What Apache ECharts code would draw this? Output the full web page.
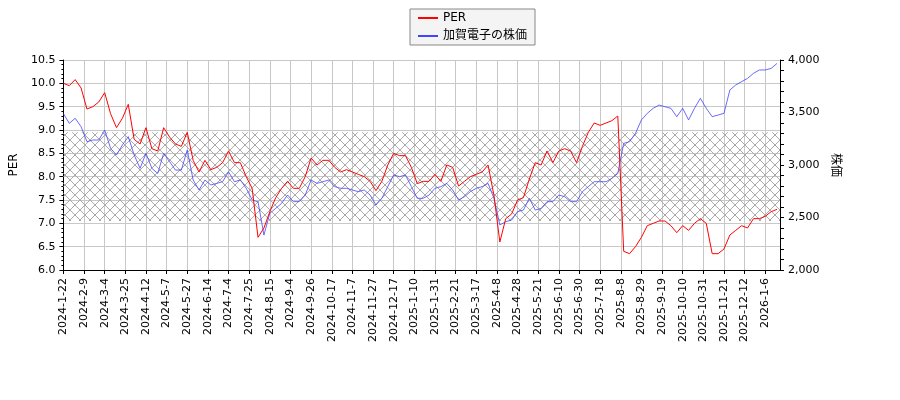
<!DOCTYPE html>
<html>
<head>
<meta charset="utf-8">
<script src="https://cdn.jsdelivr.net/npm/echarts@6/dist/echarts.min.js"></script>
<style>
  html, body { margin: 0; padding: 0; background: #fff; }
  #chart { width: 900px; height: 400px; }
</style>
</head>
<body>
<div id="chart"></div>
<script>
// tick labels, one every 14 trading days
var tickLabels = ['2024-1-22', '2024-2-9', '2024-3-4', '2024-3-25', '2024-4-12', '2024-5-7', '2024-5-27',
  '2024-6-14', '2024-7-4', '2024-7-25', '2024-8-15', '2024-9-4', '2024-9-26', '2024-10-17', '2024-11-7',
  '2024-11-27', '2024-12-17', '2025-1-10', '2025-1-31', '2025-2-21', '2025-3-17', '2025-4-8', '2025-4-28',
  '2025-5-21', '2025-6-10', '2025-6-30', '2025-7-18', '2025-8-8', '2025-8-29', '2025-9-19', '2025-10-10',
  '2025-10-31', '2025-11-21', '2025-12-12', '2026-1-6'];
var ticksPerLabel = 14;
var sampleStep = 4; // one reading every 4 trading days

// PER
var perValues = [10.0, 9.95, 10.08, 9.9, 9.45, 9.5, 9.6, 9.8, 9.35, 9.05,
  9.25, 9.55, 8.8, 8.7, 9.05, 8.6, 8.55, 9.05, 8.85, 8.7,
  8.65, 8.95, 8.35, 8.1, 8.35, 8.15, 8.2, 8.3, 8.55, 8.3,
  8.3, 8.0, 7.75, 6.7, 6.9, 7.25, 7.55, 7.75, 7.9, 7.75,
  7.75, 8.0, 8.4, 8.25, 8.35, 8.35, 8.2, 8.1, 8.15, 8.1,
  8.05, 8.0, 7.9, 7.7, 7.9, 8.25, 8.5, 8.45, 8.45, 8.2,
  7.85, 7.9, 7.9, 8.05, 7.9, 8.25, 8.2, 7.8, 7.9, 8.0,
  8.05, 8.1, 8.25, 7.6, 6.6, 7.1, 7.2, 7.5, 7.55, 7.95,
  8.3, 8.25, 8.55, 8.3, 8.55, 8.6, 8.55, 8.3, 8.65, 8.95,
  9.15, 9.1, 9.15, 9.2, 9.3, 6.4, 6.35, 6.5, 6.7, 6.95,
  7.0, 7.05, 7.05, 6.95, 6.8, 6.95, 6.85, 7.0, 7.1, 7.0,
  6.35, 6.35, 6.45, 6.75, 6.85, 6.95, 6.9, 7.1, 7.1, 7.15,
  7.25, 7.3];

// stock price (yen), same sampling
var priceValues = [3490, 3397, 3445, 3365, 3222, 3238, 3238, 3333, 3159, 3095,
  3190, 3270, 3095, 2968, 3111, 2968, 2920, 3111, 3032, 2952,
  2952, 3143, 2857, 2762, 2857, 2810, 2825, 2841, 2936, 2841,
  2857, 2778, 2667, 2650, 2333, 2540, 2587, 2635, 2714, 2651,
  2651, 2714, 2857, 2825, 2841, 2857, 2794, 2778, 2778, 2762,
  2746, 2762, 2714, 2619, 2683, 2794, 2905, 2889, 2905, 2794,
  2683, 2683, 2714, 2778, 2794, 2825, 2762, 2667, 2698, 2746,
  2778, 2794, 2825, 2683, 2429, 2460, 2476, 2556, 2571, 2683,
  2571, 2587, 2651, 2651, 2714, 2698, 2651, 2651, 2746, 2794,
  2841, 2841, 2841, 2873, 2920, 3206, 3222, 3302, 3429, 3492,
  3540, 3571, 3555, 3540, 3460, 3540, 3429, 3540, 3635, 3540,
  3460, 3476, 3492, 3714, 3762, 3794, 3825, 3873, 3905, 3905,
  3920, 3968];

function toPairs(vals) {
  return vals.map(function (v, k) { return [k * sampleStep, v]; });
}

// cross-hatch pattern for the band
function hatch() {
  var c = document.createElement('canvas');
  c.width = 10; c.height = 10;
  var g = c.getContext('2d');
  g.strokeStyle = '#aaaaaa';
  g.lineWidth = 1;
  g.beginPath();
  g.moveTo(0, 0); g.lineTo(10, 10);
  g.moveTo(10, 0); g.lineTo(0, 10);
  g.stroke();
  return c;
}

var chart = echarts.init(document.getElementById('chart'));
var font = 'DejaVu Sans';
var option = {
  animation: false,
  textStyle: { fontFamily: font },
  legend: {
    orient: 'vertical',
    left: 410, top: 9,
    data: ['PER', '加賀電子の株価'],
    backgroundColor: '#f4f4f4',
    borderColor: '#888', borderWidth: 1, borderRadius: 0,
    padding: [3, 8], itemGap: 6,
    itemWidth: 20, itemHeight: 2,
    icon: 'rect',
    textStyle: { fontSize: 12, color: '#000', fontFamily: 'DejaVu Sans, Noto Sans CJK JP' }
  },
  grid: { left: 60, right: 120, top: 60, bottom: 130 },
  xAxis: {
    type: 'value',
    min: 0, max: 486, interval: ticksPerLabel,
    axisLine: { onZero: false, lineStyle: { color: '#000' } },
    axisTick: { lineStyle: { color: '#000' }, length: 4 },
    splitLine: { show: true, lineStyle: { color: '#c8c8c8' } },
    axisLabel: {
      rotate: 90, fontSize: 11, color: '#000', showMaxLabel: false,
      formatter: function (v) { return tickLabels[Math.round(v / ticksPerLabel)] || ''; }
    }
  },
  yAxis: [{
    type: 'value', min: 6, max: 10.5, interval: 0.5,
    name: 'PER', nameLocation: 'middle', nameGap: 38, nameRotate: 90,
    nameTextStyle: { fontSize: 12, color: '#000' },
    axisLine: { show: true, lineStyle: { color: '#000' } },
    axisTick: { show: true, lineStyle: { color: '#000' }, length: 4 },
    minorTick: { show: true, splitNumber: 5, length: 2, lineStyle: { color: '#000' } },
    splitLine: { lineStyle: { color: '#c8c8c8' } },
    axisLabel: { fontSize: 11, color: '#000', formatter: function (v) { return v.toFixed(1); } }
  }, {
    type: 'value', min: 2000, max: 4000, interval: 500,
    name: '株価', nameLocation: 'middle', nameGap: 50, nameRotate: -90,
    nameTextStyle: { fontSize: 12, color: '#000', fontFamily: 'Noto Sans CJK JP' },
    axisLine: { show: true, lineStyle: { color: '#000' } },
    axisTick: { show: true, lineStyle: { color: '#000' }, length: 4 },
    minorTick: { show: true, splitNumber: 5, length: 4, lineStyle: { color: '#000' } },
    splitLine: { show: false },
    axisLabel: { fontSize: 11, color: '#000' }
  }],
  series: [{
    name: 'PER', type: 'line', yAxisIndex: 0,
    data: toPairs(perValues), showSymbol: false,
    lineStyle: { color: '#ff0000', width: 1 }, itemStyle: { color: '#ff0000' },
    z: 3,
    markArea: {
      silent: true,
      itemStyle: { color: { image: hatch(), repeat: 'repeat' } },
      data: [[{ yAxis: 7.05 }, { yAxis: 8.95 }]]
    }
  }, {
    name: '加賀電子の株価', type: 'line', yAxisIndex: 1,
    data: toPairs(priceValues), showSymbol: false,
    lineStyle: { color: '#4444ff', width: 0.8 }, itemStyle: { color: '#4444ff' },
    z: 2
  }]
};
chart.setOption(option);
</script>
</body>
</html>
